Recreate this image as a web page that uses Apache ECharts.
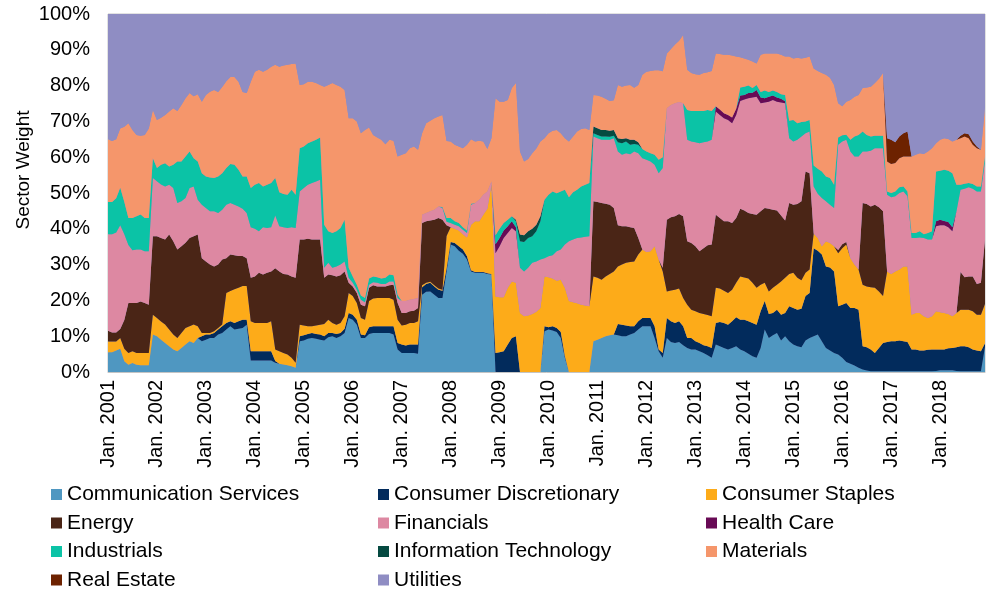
<!DOCTYPE html>
<html>
<head>
<meta charset="utf-8">
<script src="https://cdn.jsdelivr.net/npm/echarts@6/dist/echarts.min.js"></script>
<style>
  html, body { margin: 0; padding: 0; background: #fff; }
  #chart { width: 986px; height: 590px; }
</style>
</head>
<body>
<div id="chart"></div>
<script>
// monthly categories, Jan. 2001 .. Dec. 2018
const years = [2001, 2002, 2003, 2004, 2005, 2006, 2007, 2008, 2009, 2010, 2011, 2012, 2013, 2014, 2015, 2016, 2017, 2018];
const monthNames = ['Jan.', 'Feb.', 'Mar.', 'Apr.', 'May', 'Jun.', 'Jul.', 'Aug.', 'Sep.', 'Oct.', 'Nov.', 'Dec.'];
const yTicks = [0, 10, 20, 30, 40, 50, 60, 70, 80, 90, 100];

// sector weights in %, one row per year
const commServices = [
  5.5,5.5,6,6.5,3,2,2.5,2,1.9,1.9,1.9,10.5,
  10,9,8.1,7.2,6.3,5.8,6.7,7.7,8.6,8.1,9.5,8.6,
  9,9.5,9.5,10.5,10.9,11.9,12.8,11.9,12.1,12.3,13.2,3.2,
  3.2,3.2,3.2,3.2,3.2,2.6,2.3,2.1,1.9,1.6,1.2,8.6,
  8.8,9.3,9.5,9.3,9,8.8,9.7,10,9.5,10,10.9,15.1,
  14.6,13.2,9.5,9.5,10.6,10.9,10.9,10.9,10.9,10.9,10.5,6.3,
  5.3,5.3,5.3,5.3,5.1,21.6,22.4,22.5,21.6,20.7,20.7,28,
  35.6,35.1,33.9,33,31.4,28.1,27.7,27.7,27.7,27.4,27.2,0,
  0,0,0,0,0,0,0,0,0,0,0,11.4,
  11.9,11.6,11.2,9.5,4,0,0,0,0,0,0,8.6,
  9,9.5,10,10.3,10.5,10.3,10,10,10.5,10.9,11.9,12.8,
  12.8,12.8,9.5,5.8,4,9.5,8.4,8.1,8.4,7.5,6.7,6.3,
  6.3,5.8,5.3,4.7,4,7.7,7.2,6.7,6.3,6.7,7.2,6.3,
  5.8,5.1,4.4,4,6.7,11.9,9.5,10.3,10.9,8.8,10,8.6,
  7.7,7.2,6.9,8.8,9.5,10,10.5,8.6,6.7,6,5.3,4.9,
  4,2.8,2.3,1.8,1.2,0.7,0.4,0.2,0.2,0.2,0.2,0.2,
  0.2,0.2,0.2,0.2,0.2,0.2,0.2,0.2,0.2,0.2,0.2,0.3,
  0.5,0.5,0.5,0.5,0.3,0.2,0.2,0.2,0.2,0.2,0.2,7
];
const consDiscretionary = [
  0,0,0,0,0,0,0,0,0,0,0,0,
  0,0,0,0,0,0,0,0,0,0,0,1.4,
  1.5,1,1.4,1.4,1.9,1.8,1.4,1.8,2.1,2.3,1.4,2.6,
  2.6,2.6,2.6,2.6,2.6,0.5,0,0,0,0,0,1.4,
  1.5,1.3,1.4,1.3,1.5,1.2,1.2,0.9,1.1,0.9,1.2,1.4,
  1.4,1.4,1,0.8,1.9,1.9,1.9,1.9,1.9,1.9,2.3,1.8,
  2.4,2.1,2.4,2.4,2.6,2.1,2.2,2.4,2.3,2.3,2,1,
  0.7,0.9,1.2,1.2,0.9,0.3,0.2,0.2,0.2,0.2,0.2,5.3,
  5.5,5.8,7.7,9.5,10,0,0,0,0,0,0,1.4,
  0.6,1.2,1.1,1.7,0.5,0,0,0,0,0,0,0,
  0,0,0,0,0,3.1,3.2,3,2.3,1.9,2.3,2.3,
  2.3,2.3,3.3,0.5,1.3,5.6,5.8,5.6,5.8,5.3,2.8,3.2,
  2.3,2.3,2.2,2.5,2.7,6,6.8,7,6.9,7.5,8.1,8.3,
  8.8,9.1,9.3,9.2,10.3,7.9,6.7,6.2,6.5,7.2,6.5,9.8,
  10.2,10.2,10.8,12.4,12.6,24.6,23.4,24.2,22.8,23.2,22.8,13.5,
  14.8,16.5,15.6,16.1,16.2,6.5,6.5,6.1,5.1,6.5,7.9,8.2,
  8.4,8.4,8.6,8.4,8.2,6.1,6.1,5.8,5.8,6,6.1,6,
  5.8,5.8,6.1,6.2,6.6,7,7,6.7,6.1,5.8,5.6,1
];
const consStaples = [
  3,3,2.5,3,3.5,3.3,3.3,3.3,3.4,3.4,3.4,5.5,
  5.1,5.1,5.2,4.7,4.2,3.7,4.2,4.6,4.2,5.2,3.3,0.9,
  0.4,0.4,0.5,0.4,0.5,8.4,8.4,9.4,9.3,9.4,9.4,8.4,
  7.9,7.9,7.9,7.9,8.4,3.2,3.5,3.2,3,2.4,1.4,3.2,
  2.7,2.2,1.9,2.4,2.7,3.4,3.7,2.8,2.6,2.8,3.5,5.6,
  5.2,4.7,4.6,4.3,7.3,7.7,7.9,7.9,7.9,7.9,7.4,6.5,
  5.3,5.8,6,6,6.5,0.5,0.3,0.3,0.3,0.3,0.3,9,
  4.1,4,4.4,4.3,5.3,12.7,14.2,14.2,16,18,24.9,15.8,
  15.4,15.1,15.8,15.8,14.9,16.5,15.6,15.8,16.2,16.8,17.9,13.9,
  14,13.3,13.2,14.6,19,19.8,19.5,19.2,18.8,18.6,18.4,18.1,
  17.3,16.3,16.7,17.1,17.6,16.1,16.8,17.5,17.9,18.1,18.6,19.1,
  18.4,18.6,22.3,25.1,22.8,7.4,8.6,9.3,9.1,7.9,9.3,7.9,
  8.4,8.4,8.7,8.7,8.9,9.8,9.3,9,8.9,8.8,9.6,12.1,
  11.8,11.9,11.2,10.3,7.4,5.1,6.3,7,7,9.3,9.8,9,
  9.8,8.9,7.9,6.5,6.5,4.1,3.5,2.3,7,6.8,7,14.8,
  15.8,16.3,13.9,12.1,11.2,17.2,17,17.4,18.2,15.8,13.1,19.7,
  18.8,19.5,19.8,20.9,21.1,9.7,10.2,10.5,9.6,8.9,9.3,10.7,
  10.4,10.2,9.6,8.9,9.6,10.2,10.2,10.5,10.7,10,10.2,11
];
const energy = [
  3,2.5,2.5,2.5,8,14,13.5,14,14.4,14,13.5,21.9,
  22.8,23.3,23.7,26.5,26,24.7,24.2,23.8,24.6,24.6,25.6,20.9,
  20,19.1,18.1,17.7,18.1,9.7,10.2,9.5,8.9,8.4,7.8,12.1,
  13,14,13.5,14,13.9,22.7,22.3,22.1,22.3,22.7,23.7,23.8,
  24,24.4,24.2,24,23.8,12.9,12.6,13.3,13.5,13.3,12.5,2.8,
  2.7,2.8,3.7,3.8,3.7,3.7,3.2,3.2,3.2,3.5,4.2,4.7,
  3.5,3.3,3.3,3.4,3.7,17.4,17.2,17.1,18.3,19.7,19.5,3,
  0,0,0,0,0,0,0,0,0,0,0,0,
  0,0,0,0,0,0,0,0,0,0,0,0,
  0,0,0,0,0,0,0,0,0,0,0,21,
  21.2,21.4,20.3,19.3,17.7,11.5,10.7,10.2,9.7,9.3,4.6,0,
  0,0,0,0,1,20,20.4,20.5,20.8,22.8,17.7,18.6,
  18.1,17.2,18.4,19.5,20,20.4,19.7,19.4,20,18.6,18.1,18.9,
  18.7,18.3,19.2,20.4,20.5,20.9,23.1,21.8,20.7,18.4,16,19.8,
  19,20.6,22.1,28.3,26.9,0,0,0,0,0,0,0.9,
  1.1,0.7,0,0,0,22.8,23,22.5,23.2,23.5,23.7,0,
  0,0,0,0,0,0,0,0,0,0,0,0,
  0,0,0,0,0,10.5,9.1,9.3,9.7,8.6,8.9,18
];
const financials = [
  27,27.5,28,29,24,16.2,14.7,14.9,14.5,14.4,14.9,16.3,
  15.4,15,14.8,13.9,14.9,13,12.6,12.5,14,13.9,9.7,14.9,
  14.9,14.9,15.4,14.4,13.9,14.9,14.4,14.1,13.8,13.2,12.6,14.1,
  13.3,11.6,13.2,12.5,12.3,14.7,12.6,13,13,13.7,13.9,13.4,
  14.4,15.1,15.8,16.2,16.7,2.8,3.3,2.1,2.8,3,2.8,1.4,
  1,0.9,1.4,1.1,0.9,0.9,1,0.7,0.7,1.1,0.9,1.4,
  3.3,3.3,3.2,3.3,2.8,2.3,2.3,2.6,2.8,3.2,3.3,1,
  1.2,1.1,1.2,1.2,1.2,5.6,5.1,6,5.6,4.8,0.9,12.1,
  14.2,16.5,15.3,14.9,14.4,12.6,12.5,13.3,14.3,14.1,13.5,5.1,
  5.8,6.5,8.2,8.4,12.1,16.7,17.5,18.2,18.8,19.2,19.5,18.1,
  17.8,17.7,17.9,18.2,19.5,20.6,20,20.4,20.4,21.4,23.7,25.5,
  25.8,25.1,22.8,24.1,27.9,31.2,31.4,31.6,31.3,31.6,28.4,28.4,
  29.1,30.2,29.6,29,29.3,28.9,28.8,28.8,28.3,27.9,28.8,30.1,
  31,32.1,32.6,33,30.2,29.5,29.9,30.7,30.4,31.6,32.8,18.1,
  17.7,18,18.1,10.7,11.7,13.1,12.4,13.5,11.2,10.7,10.7,29.4,
  28.7,28.6,29.8,30.2,31.6,14.4,14.7,15.6,15.8,16.5,17.6,21.4,
  21.4,21,21.4,20.9,19.6,21.4,20.9,21.1,21.8,21.9,21.4,23.7,
  24.3,24.5,24.2,23.7,28.4,23,24.7,24.9,24.5,25.8,25.5,21.8
];
const healthCare = [
  0,0,0,0,0,0,0,0,0,0,0,0,
  0,0,0,0,0,0,0,0,0,0,0,0,
  0,0,0,0,0,0,0,0,0,0,0,0,
  0,0,0,0,0,0,0,0,0,0,0,0,
  0,0,0,0,0,0,0,0,0,0,0,0,
  0,0,0,0,0,0,0,0,0,0,0,0,
  0,0,0,0,0,0,0,0,0,0,0,0,
  0,0,0,0,0,0,0,0,0,0,0,2.5,
  2.3,2.1,1.9,1.9,1.1,0,0,0,0,0,0,0,
  0,0,0,0,0,0,0,0,0,0,0,0,
  0,0,0,0,0,0,0,0,0,0,0,0,
  0,0,0,0,0,0,0,0,0,0,0,0,
  0,0,0,0,0,1.4,1.5,1.4,1.4,1.6,1.7,1.5,
  1.3,1.4,1.3,1.9,1.6,1.2,1.4,1.2,1.2,1,0.5,0,
  0,0,0,0,0,0,0,0,0,0,0,0,
  0,0,0,0,0,0,0,0,0,0,0,0,
  0,0,0,0,0,0,0,0,0,0,0,1.4,
  1.5,1.2,1.5,1.1,0,0,0,0,0,0,0,0
];
const industrials = [
  9,9,9.5,10.5,9,7.5,9,9.3,9.8,9.3,9.3,5.5,
  3.7,5.5,6.5,5.1,6.5,11.6,11.1,11.6,10.2,7.9,10.7,8.8,
  8.8,9.4,9.3,10.2,10.2,10.3,10.9,11.2,10.3,9,10.2,11,
  12.3,13.5,11.4,12.1,12.4,10.5,9.5,9.3,9.3,10.5,9.3,12.1,
  11.6,11.6,11.6,11.7,11.8,12,8.8,9.7,9.8,10.2,11.6,2.8,
  1.8,1.4,1.2,1.2,1.7,1.6,1.6,1.5,1.7,1.9,1.7,0.9,
  0,0,0,0,0,0,0,0,0,0,0.3,1,
  1.4,1,0.9,0.7,0.7,0.3,0,0,0,0,0,2.5,
  2.6,2.1,1.8,1.4,1.7,7.4,8.2,8.3,7.4,8.4,10.7,16.3,
  17.2,17.8,16.2,16.2,15.3,12.3,13.2,13.5,14.2,14.5,14.9,0.9,
  0.9,0.9,0.9,0.8,0.7,2.6,3.2,3.3,2.7,2.1,2.4,2.6,
  2.3,2.3,2.8,3.8,3,0,0,0,0,0,8.3,8.5,
  8.7,9,8.7,8.8,8,0,0,0,0,0,0,2.3,
  2.3,2.1,1.3,1.4,1.5,2.1,1.3,1.4,1.5,1.3,1.8,4.9,
  6,4.6,4,3.3,3.2,5.9,7,7.4,6.9,7.5,6.5,2,
  1.7,1.4,3.3,5.6,6,5.6,4.6,4,3.5,3.5,3.5,0.9,
  1.2,1.3,1.6,1.4,1.3,1.4,1.4,1.7,1.1,1.8,2.3,13.9,
  13.7,14.3,14.3,15.1,7.4,1.4,1.4,1.2,1.3,1.4,1.4,1.5
];
const infoTech = [
  0,0,0,0,0,0,0,0,0,0,0,0,
  0,0,0,0,0,0,0,0,0,0,0,0,
  0,0,0,0,0,0,0,0,0,0,0,0,
  0,0,0,0,0,0,0,0,0,0,0,0,
  0,0,0,0,0,0,0,0,0,0,0,0,
  0,0,0,0,0,0,0,0,0,0,0,0,
  0,0,0,0,0,0,0,0,0,0,0,0,
  0,0,0,0,0,0,0,0,0,0,0,0,
  0,0,0,0,0.4,1.9,1.9,1.9,2.1,1.8,1.4,0,
  0,0,0,0,0,0,0,0,0,0,0,1.9,
  1.9,1.8,1.8,1.7,1.6,1.1,1.2,0.9,1.4,1.2,0.7,0,
  0,0,0,0,0,0,0,0,0,0,0,0,
  0,0,0,0,0,0,0,0,0,0,0,0,
  0,0,0,0,0,0,0,0,0,0,0,0,
  0,0,0,0,0,0,0,0,0,0,0,0,
  0,0,0,0,0,0,0,0,0,0,0,0,
  0,0,0,0,0,0,0,0,0,0,0,0,
  0,0,0,0,0,0,0,0,0,0,0,0
];
const materials = [
  17.5,17,16.5,16.5,21,26.5,24.6,22.7,22,23.2,25,13.5,
  13.4,13.1,13.5,15.4,15.8,14.1,15.8,16.3,16.3,17.3,18.8,20,
  22.8,24,24.6,23.6,24.1,24.2,24.3,24.5,24.6,23.6,23.3,29.7,
  31.6,31.6,32.1,32.1,32.5,31.6,35.1,35.9,36.3,35.1,36.7,17.7,
  17.4,17.2,16.7,15.8,14.7,38.6,40.9,41.9,40.9,39.5,36.3,41.8,
  44.2,45.6,45.3,46.9,42.2,39.5,39,38.8,37.3,37.7,37.6,38.6,
  40.9,41.3,42.3,42.6,41.4,22.8,25.1,25.3,25.6,25.2,25.7,21.5,
  21.4,21.4,21.4,22.1,24,18,17.2,16.5,14.9,11.9,12.1,38.3,
  35.5,33.9,33.5,35.8,38.2,23.2,20.6,20.2,21.1,21.3,20.9,17.2,
  17.2,17,17.7,16.3,14.4,15.6,15.6,16.3,16.1,15.8,14.8,8.8,
  9.1,9.3,8.7,8.3,8.3,14.9,14.6,14.7,15.3,14.5,16,20.7,
  22.3,23,23.6,25,24,15.3,15.6,16.4,17.1,19,11.2,10.6,
  10.3,10.1,10.6,10.5,11.2,14.8,15.5,16.3,16.8,17.3,14.6,8.4,
  7.9,7.2,7.4,6,10.4,10.4,10.8,10.4,10.8,11,10.7,17.9,
  17.2,18.3,17.8,17.8,17.7,27.1,27.3,27.5,28.4,28,27.9,9.6,
  8.1,9.2,11.1,11.1,11.2,12.1,13.3,13.9,14.7,15.9,17.5,8.4,
  8.1,8,8.1,8.4,9.8,21.4,21.9,21.8,22.4,22.8,23.2,7.9,
  8.7,8.8,8.9,8.9,12.6,13,13.2,12.5,11,10.7,10.3,13.5
];
const realEstate = [
  0,0,0,0,0,0,0,0,0,0,0,0,
  0,0,0,0,0,0,0,0,0,0,0,0,
  0,0,0,0,0,0,0,0,0,0,0,0,
  0,0,0,0,0,0,0,0,0,0,0,0,
  0,0,0,0,0,0,0,0,0,0,0,0,
  0,0,0,0,0,0,0,0,0,0,0,0,
  0,0,0,0,0,0,0,0,0,0,0,0,
  0,0,0,0,0,0,0,0,0,0,0,0,
  0,0,0,0,0,0,0,0,0,0,0,0,
  0,0,0,0,0,0,0,0,0,0,0,0,
  0,0,0,0,0,0,0,0,0,0,0,0,
  0,0,0,0,0,0,0,0,0,0,0,0,
  0,0,0,0,0,0,0,0,0,0,0,0,
  0,0,0,0,0,0,0,0,0,0,0,0,
  0,0,0,0,0,0,0,0,0,0,0,0,
  0,0,0,0,0,0,0,0,0,0,0,6.5,
  6.8,5.8,6.1,6.5,7,0,0,0,0,0,0,0,
  0,0,0,0,0,0.7,0.9,1.1,0.9,0.5,0,0
];
const utilities = [
  35.3,35.8,35.3,32.3,31.8,30.8,32.7,34.1,34.3,34.1,32.3,27.1,
  29.9,29.3,28.5,27.5,26.6,27.4,25.7,23.8,22.4,23.3,22.7,24.8,
  22.9,22,21.5,22.1,20.7,19.1,17.9,17.9,19.2,22.1,22.4,19.2,
  16.4,15.9,16.4,15.9,15,14.5,15,14.7,14.5,14.3,14.1,20.1,
  19.9,19.2,19.2,19.6,20.1,20.6,20.1,19.6,20.1,20.6,21.5,29.4,
  29.4,30.3,33.6,32.7,32,34.1,34.8,35.4,36.7,35.4,35.7,40.1,
  39.6,39.2,37.8,37.3,38.2,33.6,30.8,30.1,29.7,28.9,28.5,35.8,
  35.9,36.8,37.3,37.8,36.8,35.3,35.9,35.7,35.9,38,35,23.8,
  24.8,24.8,24.3,21,19.6,38.7,41.5,40.8,39.2,37.9,35.9,35,
  33.6,32.9,32.7,33.6,35,35.9,34.5,33.1,32.4,32.2,32.7,22.9,
  23.1,23.4,24,24.6,24.4,20.1,20.6,20.3,20.1,20.9,20.1,17.3,
  16.4,16.2,16,16,16.3,11.3,10.1,8.8,7.8,6.2,15.9,16.8,
  17.1,17.3,16.8,16.6,16.2,11.3,11.5,11.7,11.7,11.9,12.2,12.4,
  12.7,13.1,13.6,14.1,11.7,11.3,11.3,11.3,11.3,11.7,12.2,12.2,
  12.7,12.5,12.7,12.5,12.2,15.5,16.2,16.8,17.3,18.1,20.1,25.2,
  26.1,24.8,24.3,23.4,22.9,21,20.8,20.6,19.6,18.4,16.8,35,
  35.4,36.1,34.5,33.6,33.1,40.1,39.6,39.2,39.4,38.7,37.8,36.4,
  35.4,35,35.2,35.9,35.4,34.3,33.6,33.9,35.9,37.3,38.2,26.5
];

const sectors = [
  { name: 'Communication Services', data: commServices, color: '#4f97c1' },
  { name: 'Consumer Discretionary', data: consDiscretionary, color: '#022b5c' },
  { name: 'Consumer Staples', data: consStaples, color: '#fdab19' },
  { name: 'Energy', data: energy, color: '#4a2516' },
  { name: 'Financials', data: financials, color: '#dd88a2' },
  { name: 'Health Care', data: healthCare, color: '#680a55' },
  { name: 'Industrials', data: industrials, color: '#0bc3a6' },
  { name: 'Information Technology', data: infoTech, color: '#054a41' },
  { name: 'Materials', data: materials, color: '#f5966b' },
  { name: 'Real Estate', data: realEstate, color: '#6d2200' },
  { name: 'Utilities', data: utilities, color: '#8f8dc3' }
];

const categories = [];
years.forEach(y => monthNames.forEach(m => categories.push(m + ' ' + y)));

const font = 'Liberation Sans, Arial, sans-serif';
const legendCol = (names, left) => ({
  orient: 'vertical',
  left: left,
  top: 484,
  height: 110,
  padding: 0,
  itemGap: 7.5,
  itemWidth: 11,
  itemHeight: 11,
  icon: 'rect',
  selectedMode: false,
  textStyle: { fontFamily: font, fontSize: 21, color: '#000', lineHeight: 20 },
  data: names
});

const chart = echarts.init(document.getElementById('chart'));
chart.setOption({
  animation: false,
  backgroundColor: '#fff',
  textStyle: { fontFamily: font },
  grid: {
    left: 108, right: 1, top: 14, bottom: 218,
    show: true, backgroundColor: '#8f8dc3', borderColor: '#c4c4c4', borderWidth: 1
  },
  legend: [
    legendCol(['Communication Services', 'Energy', 'Industrials', 'Real Estate'], 51),
    legendCol(['Consumer Discretionary', 'Financials', 'Information Technology', 'Utilities'], 378),
    legendCol(['Consumer Staples', 'Health Care', 'Materials'], 706)
  ],
  graphic: [{
    type: 'text',
    x: 24, y: 170,
    rotation: Math.PI / 2,
    style: {
      text: 'Sector Weight', fontFamily: font, fontSize: 19, fill: '#000',
      textAlign: 'center', textVerticalAlign: 'middle'
    }
  }],
  xAxis: {
    type: 'category',
    data: categories,
    boundaryGap: false,
    axisTick: { show: false },
    axisLine: { lineStyle: { color: '#c4c4c4' } },
    axisLabel: {
      interval: 11, rotate: 90, margin: 8,
      fontFamily: font, fontSize: 20, color: '#000'
    }
  },
  yAxis: {
    type: 'value',
    min: yTicks[0], max: yTicks[yTicks.length - 1], interval: 10,
    splitLine: { show: false },
    axisLine: { show: false },
    axisTick: { show: false },
    axisLabel: { formatter: '{value}%', margin: 18, fontFamily: font, fontSize: 20, color: '#000' }
  },
  series: sectors.map(s => ({
    name: s.name,
    type: 'line',
    stack: 'total',
    data: s.data,
    symbol: 'none',
    color: s.color,
    lineStyle: { width: 0 },
    areaStyle: { color: s.color, opacity: 1 },
    emphasis: { disabled: true },
    clip: true
  }))
});
</script>
</body>
</html>
